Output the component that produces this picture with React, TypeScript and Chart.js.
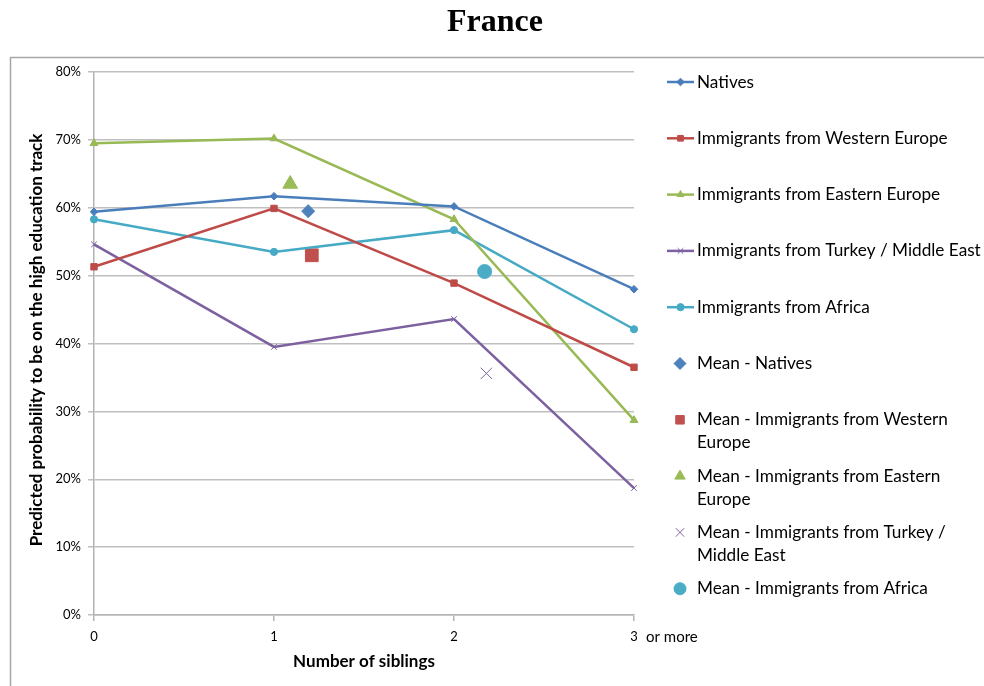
import React, { useEffect, useRef } from "react";
import { Chart, registerables } from "chart.js";
import { drawPoint } from "chart.js/helpers";

Chart.register(...registerables);

const chartTitle = "France";
const xTitle = "Number of siblings";
const yTitle = "Predicted probability to be on the high education track";
const siblings = [0, 1, 2, 3];
const xTickLabels = ["0", "1", "2", "3"];
const lastTickSuffix = "or more";
const yTickMax = 80;

const seriesNames = [
  "Natives",
  "Immigrants from Western Europe",
  "Immigrants from Eastern Europe",
  "Immigrants from Turkey / Middle East",
  "Immigrants from Africa",
];
const natives = [59.4, 61.7, 60.2, 48.0];
const westernEurope = [51.3, 59.9, 48.9, 36.5];
const easternEurope = [69.5, 70.2, 58.3, 28.7];
const turkeyMiddleEast = [54.6, 39.5, 43.6, 18.7];
const africa = [58.3, 53.5, 56.7, 42.1];

const meanNames = [
  "Mean - Natives",
  "Mean - Immigrants from Western\nEurope",
  "Mean - Immigrants from Eastern\nEurope",
  "Mean - Immigrants from Turkey /\nMiddle East",
  "Mean - Immigrants from Africa",
];
const meanSiblings = [1.19, 1.21, 1.09, 2.18, 2.17];
const meanValues = [59.5, 53.0, 63.5, 35.6, 50.6];

const colors = ["#4A7EBB", "#BE4B48", "#98B954", "#7D60A0", "#46AAC5"];
const meanColors = ["#4F81BD", "#C0504D", "#9BBB59", "#8064A2", "#4BACC6"];
const lineStyles = ["rectRot", "rect", "triangle", "crossRot", "circle"];
const lineRadius = [3.8, 4.5, 4.5, 4, 3.6];
const meanRadius = [6.5, 9, 8.5, 8, 7];

const FONT = "Lato, 'Open Sans', sans-serif";

const allSeries = [natives, westernEurope, easternEurope, turkeyMiddleEast, africa];

const decor = {
  id: "decor",
  beforeDraw(chart: any) {
    const ctx = chart.ctx;
    ctx.save();
    ctx.fillStyle = "#ffffff";
    ctx.fillRect(0, 0, chart.width, chart.height);
    ctx.strokeStyle = "#A6A6A6";
    ctx.lineWidth = 1.5;
    ctx.strokeRect(10.5, 57.5, 990, 700);
    ctx.restore();
  },
  afterDraw(chart: any) {
    const ctx = chart.ctx;
    const area = chart.chartArea;
    const xs = chart.scales.x;
    ctx.save();
    ctx.fillStyle = "#000";
    ctx.textAlign = "center";
    ctx.textBaseline = "middle";
    ctx.font = "bold 32px 'Liberation Serif', 'Times New Roman', serif";
    ctx.fillText(chartTitle, 495, 23);

    ctx.font = `bold 17px ${FONT}`;
    ctx.fillText(xTitle, (area.left + area.right) / 2, 662);
    ctx.save();
    ctx.translate(37, 340);
    ctx.rotate(-Math.PI / 2);
    ctx.fillText(yTitle, 0, 0);
    ctx.restore();

    ctx.font = `15px ${FONT}`;
    ctx.textAlign = "left";
    ctx.fillText(lastTickSuffix, xs.getPixelForValue(siblings[siblings.length - 1]) + 12, 637);

    // legend
    const step = 56.3;
    let y = 82;
    ctx.font = `17.2px ${FONT}`;
    chart.data.datasets.forEach((ds: any) => {
      const lines = String(ds.legendText).split("\n");
      if (ds.showLine !== false) {
        ctx.strokeStyle = ds.borderColor;
        ctx.lineWidth = 2.5;
        ctx.beginPath();
        ctx.moveTo(667, y);
        ctx.lineTo(694, y);
        ctx.stroke();
        ctx.lineWidth = 1;
        ctx.fillStyle = ds.pointBackgroundColor;
        ctx.strokeStyle = ds.pointBorderColor;
        drawPoint(ctx, { pointStyle: ds.pointStyle, radius: Math.min(ds.pointRadius, 4), rotation: 0, borderWidth: 1 }, 680.5, y);
      } else {
        ctx.lineWidth = 1;
        ctx.fillStyle = ds.pointBackgroundColor;
        ctx.strokeStyle = ds.pointBorderColor;
        drawPoint(ctx, { pointStyle: ds.pointStyle, radius: 6, rotation: 0, borderWidth: 1 }, 680, y);
      }
      ctx.fillStyle = "#000";
      lines.forEach((t: string, j: number) => {
        ctx.fillText(t, 697, y + j * 23);
      });
      y += step;
    });
    ctx.restore();
  },
};

export default function App() {
  const ref = useRef<HTMLCanvasElement | null>(null);
  useEffect(() => {
    if (!ref.current) return;
    const lineSets = allSeries.map((vals, i) => ({
      label: seriesNames[i],
      legendText: seriesNames[i],
      data: vals.map((v, k) => ({ x: siblings[k], y: v })),
      borderColor: colors[i],
      backgroundColor: colors[i],
      pointBackgroundColor: colors[i],
      pointBorderColor: colors[i],
      pointStyle: lineStyles[i],
      pointRadius: lineRadius[i],
      pointBorderWidth: 1,
      borderWidth: 2.5,
      tension: 0,
      showLine: true,
      clip: false,
    }));
    const meanSets = meanValues.map((v, i) => ({
      label: meanNames[i].replace("\n", " "),
      legendText: meanNames[i],
      data: [{ x: meanSiblings[i], y: v }],
      borderColor: meanColors[i],
      backgroundColor: meanColors[i],
      pointBackgroundColor: meanColors[i],
      pointBorderColor: meanColors[i],
      pointStyle: lineStyles[i],
      pointRadius: meanRadius[i],
      pointBorderWidth: 1,
      showLine: false,
      clip: false,
    }));
    const chart = new Chart(ref.current, {
      type: "line",
      data: { datasets: [...lineSets, ...meanSets] as any },
      options: {
        animation: false,
        responsive: false,
        maintainAspectRatio: false,
        layout: { padding: { left: 0, right: 350, top: 72, bottom: 0 } },
        plugins: { legend: { display: false }, tooltip: { enabled: false }, title: { display: false } },
        scales: {
          x: {
            type: "linear",
            min: 0,
            max: 3,
            afterFit: (s: any) => { s.height = 71; },
            afterBuildTicks: (s: any) => { s.ticks = siblings.map((v) => ({ value: v })); },
            ticks: {
              callback: (v: any) => xTickLabels[siblings.indexOf(Number(v))] ?? "",
              color: "#000",
              font: { family: FONT, size: 13 },
              padding: 8,
              maxRotation: 0,
            },
            grid: { drawOnChartArea: false, color: "#B3B3B3", tickLength: 6, lineWidth: 1.5 },
            border: { color: "#B3B3B3", width: 1.5 },
          },
          y: {
            min: 0,
            max: yTickMax,
            afterFit: (s: any) => { s.width = 94; },
            ticks: {
              stepSize: 10,
              callback: (v: any) => `${v}%`,
              color: "#000",
              font: { family: FONT, size: 13 },
              padding: 7,
            },
            grid: { color: "#BFBFBF", lineWidth: 1.5, tickLength: 6 },
            border: { color: "#B3B3B3", width: 1.5 },
          },
        },
      },
      plugins: [decor],
    });
    return () => chart.destroy();
  }, []);
  return (
    <div style={{ position: "fixed", left: 0, top: 0, width: 984, height: 686 }}>
      <canvas ref={ref} width={984} height={686} style={{ width: 984, height: 686 }} />
    </div>
  );
}
